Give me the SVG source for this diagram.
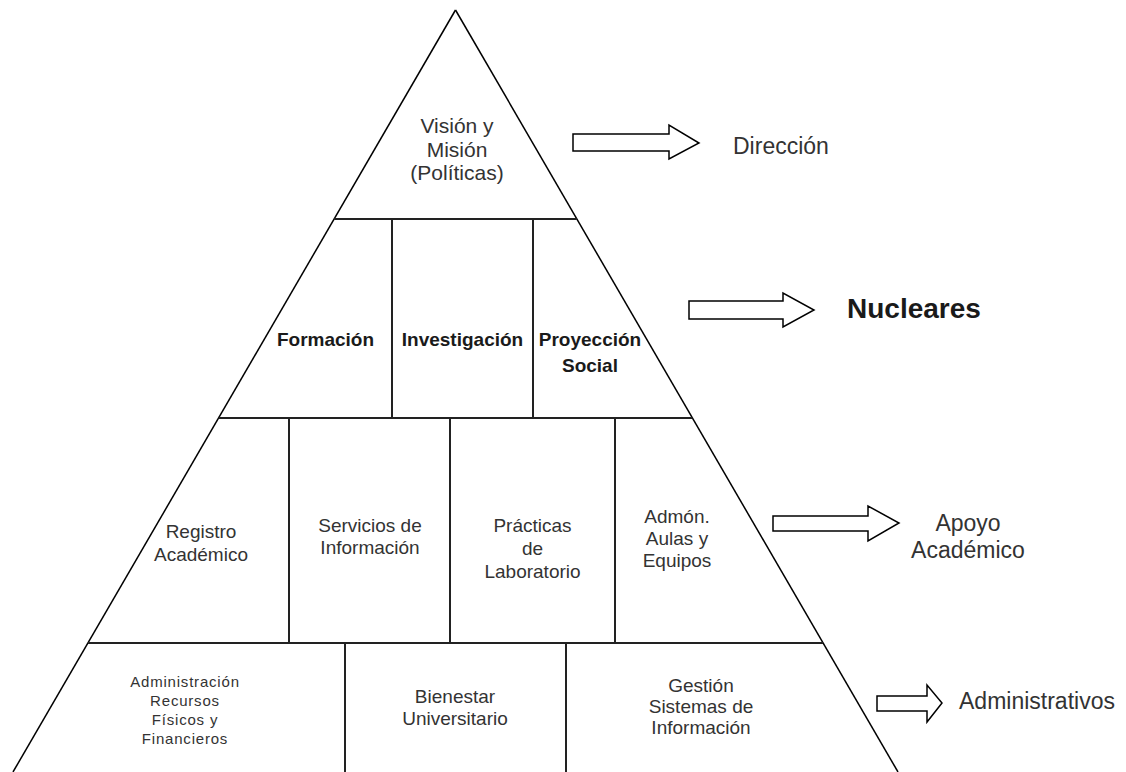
<svg xmlns="http://www.w3.org/2000/svg" width="1126" height="772" viewBox="0 0 1126 772">
  <style>
    .edge { stroke: #000; stroke-width: 1.5; fill: none; }
    .div { stroke: #222; stroke-width: 2; fill: none; }
    .t { font-family: "Liberation Sans", Arial, sans-serif; fill: #333; text-anchor: middle; }
    .m { font-size: 19px; }
    .v { font-size: 21px; }
    .s { font-size: 15px; letter-spacing: 0.8px; }
    .b { font-size: 19px; font-weight: bold; fill: #1a1a1a; }
    .lbl { font-family: "Liberation Sans", Arial, sans-serif; fill: #333; font-size: 23px; }
    .arrow { fill: #fff; stroke: #000; stroke-width: 1.5; stroke-linejoin: miter; }
  </style>
  <rect width="1126" height="772" fill="#fff"/>

  <g id="pyramid">
    <line class="edge" x1="455.5" y1="10" x2="13" y2="772"/>
    <line class="edge" x1="455.5" y1="10" x2="898" y2="772"/>
    <line class="div" x1="334.2" y1="219" x2="576.8" y2="219"/>
    <line class="div" x1="218.7" y1="418" x2="692.3" y2="418"/>
    <line class="div" x1="88" y1="643" x2="823" y2="643"/>
    <line class="div" x1="392" y1="219" x2="392" y2="418"/>
    <line class="div" x1="533" y1="219" x2="533" y2="418"/>
    <line class="div" x1="289" y1="418" x2="289" y2="643"/>
    <line class="div" x1="450" y1="418" x2="450" y2="643"/>
    <line class="div" x1="615" y1="418" x2="615" y2="643"/>
    <line class="div" x1="345" y1="643" x2="345" y2="772"/>
    <line class="div" x1="566" y1="643" x2="566" y2="772"/>
  </g>

  <g id="vision">
    <text class="t v" x="457" y="133">Visión y</text>
    <text class="t v" x="457" y="157">Misión</text>
    <text class="t v" x="457" y="180">(Políticas)</text>
  </g>

  <g id="formacion"><text class="t b" x="325.5" y="346">Formación</text></g>
  <g id="investigacion"><text class="t b" x="462.5" y="346">Investigación</text></g>
  <g id="proyeccion">
    <text class="t b" x="590" y="346">Proyección</text>
    <text class="t b" x="590" y="372">Social</text>
  </g>

  <g id="registro">
    <text class="t m" x="201" y="538">Registro</text>
    <text class="t m" x="201" y="561">Académico</text>
  </g>
  <g id="servicios">
    <text class="t m" x="370" y="532">Servicios de</text>
    <text class="t m" x="370" y="554">Información</text>
  </g>
  <g id="practicas">
    <text class="t m" x="532.5" y="532">Prácticas</text>
    <text class="t m" x="532.5" y="555">de</text>
    <text class="t m" x="532.5" y="578">Laboratorio</text>
  </g>
  <g id="admon">
    <text class="t m" x="677" y="523">Admón.</text>
    <text class="t m" x="677" y="545">Aulas y</text>
    <text class="t m" x="677" y="567">Equipos</text>
  </g>

  <g id="administracion">
    <text class="t s" x="185" y="687">Administración</text>
    <text class="t s" x="185" y="706">Recursos</text>
    <text class="t s" x="185" y="725">Físicos y</text>
    <text class="t s" x="185" y="744">Financieros</text>
  </g>
  <g id="bienestar">
    <text class="t m" x="455" y="703">Bienestar</text>
    <text class="t m" x="455" y="725">Universitario</text>
  </g>
  <g id="gestion">
    <text class="t m" x="701" y="692">Gestión</text>
    <text class="t m" x="701" y="713">Sistemas de</text>
    <text class="t m" x="701" y="734">Información</text>
  </g>

  <g id="connectors">
    <polygon class="arrow" points="573,134 669,134 669,125 699,143 669,159 669,151 573,151"/>
    <polygon class="arrow" points="689,301 783,301 783,293 814,310 783,327 783,319 689,319"/>
    <polygon class="arrow" points="773,516 868,516 868,506 899,523 868,541 868,531 773,531"/>
    <polygon class="arrow" points="877,696 927,696 927,685 942,703 927,722 927,711 877,711"/>
  </g>

  <g id="label-direccion"><text class="lbl" x="733" y="154">Dirección</text></g>
  <g id="label-nucleares"><text class="lbl" x="847" y="318" style="font-size:28px;font-weight:bold;fill:#1a1a1a">Nucleares</text></g>
  <g id="label-apoyo">
    <text class="lbl" x="968" y="531" text-anchor="middle">Apoyo</text>
    <text class="lbl" x="968" y="558" text-anchor="middle">Académico</text>
  </g>
  <g id="label-administrativos"><text class="lbl" x="959" y="709">Administrativos</text></g>
</svg>
